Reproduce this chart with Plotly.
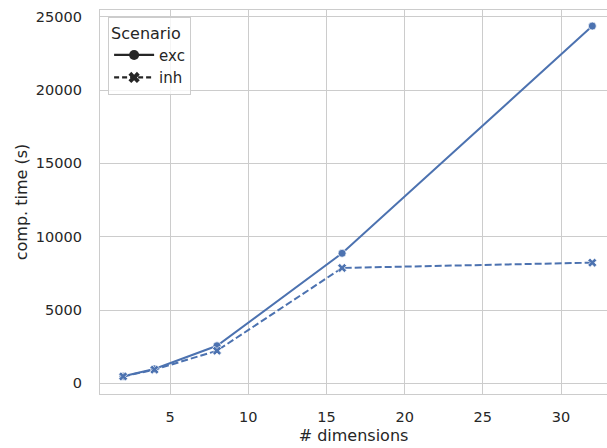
import plotly.graph_objects as go

dims = [2, 4, 8, 16, 32]
exc_time = [480, 980, 2560, 8870, 24370]
inh_time = [470, 930, 2220, 7870, 8230]
x_ticks = [5, 10, 15, 20, 25, 30]
y_ticks = [0, 5000, 10000, 15000, 20000, 25000]
y_tick_text = ["0", "5000", "10000", "15000", "20000", "25000"]

BLUE = "#4c72b0"
DARK = "#262626"
GRID = "#cccccc"
FONT = "DejaVu Sans"

fig = go.Figure()
fig.add_trace(go.Scatter(x=dims, y=exc_time, mode="lines+markers", showlegend=False,
                         line=dict(color=BLUE, width=2),
                         marker=dict(symbol="circle", size=8, color=BLUE,
                                     line=dict(color="white", width=0.7))))
fig.add_trace(go.Scatter(x=dims, y=inh_time, mode="lines+markers", showlegend=False,
                         line=dict(color=BLUE, width=2, dash="7px,3px"),
                         marker=dict(symbol="x", size=8, color=BLUE,
                                     line=dict(color="white", width=0.7))))
# legend entries (style only, dark colour as in the reference)
fig.add_trace(go.Scatter(x=[None], y=[None], mode="lines+markers", name="exc",
                         line=dict(color=DARK, width=2.2),
                         marker=dict(symbol="circle", size=10, color=DARK)))
fig.add_trace(go.Scatter(x=[None], y=[None], mode="lines+markers", name="inh",
                         line=dict(color=DARK, width=2.2, dash="5px,3px"),
                         marker=dict(symbol="x", size=10, color=DARK)))

fig.update_layout(
    width=607, height=448,
    margin=dict(l=100, r=0, t=10, b=54),
    paper_bgcolor="white", plot_bgcolor="white",
    font=dict(family=FONT, size=14.5, color=DARK),
    legend=dict(title=dict(text="Scenario", font=dict(size=16, color=DARK)),
                x=0.016, y=0.982, xanchor="left", yanchor="top",
                bordercolor=GRID, borderwidth=1, bgcolor="rgba(255,255,255,0.8)",
                font=dict(size=15, color=DARK), itemwidth=40,
                tracegroupgap=2),
)
fig.update_xaxes(range=[0.52, 32.94], tickvals=x_ticks, showgrid=True, gridcolor=GRID,
                 gridwidth=1, zeroline=False, showline=True, linecolor=GRID, linewidth=1.2,
                 mirror=True, ticks="", ticklabelstandoff=9,
                 tickfont=dict(size=14.5),
                 title=dict(text="# dimensions", standoff=6, font=dict(size=16)))
fig.update_yaxes(range=[-730, 25464], tickvals=y_ticks, ticktext=y_tick_text,
                 showgrid=True, gridcolor=GRID,
                 gridwidth=1, zeroline=False, showline=True, linecolor=GRID, linewidth=1.2,
                 ticks="", ticklabelstandoff=14, tickfont=dict(size=14.5),
                 title=dict(text="comp. time (s)", standoff=4, font=dict(size=16)))

fig.write_html("out.html")
